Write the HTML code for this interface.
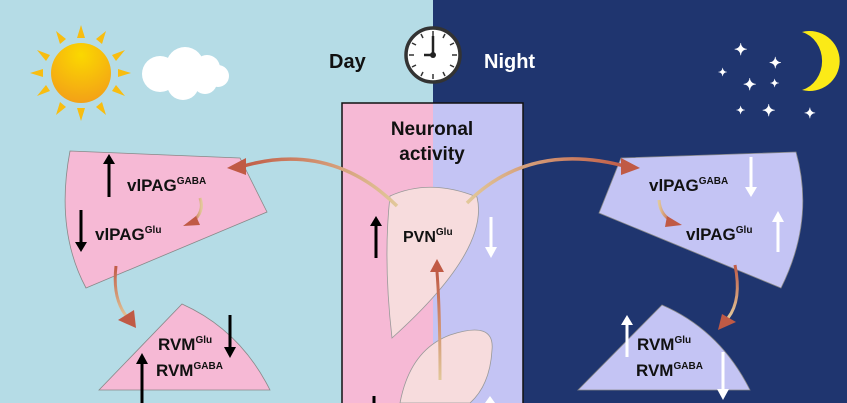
<!DOCTYPE html>
<html><head><meta charset="utf-8"><style>
html,body{margin:0;padding:0;width:847px;height:403px;overflow:hidden}
text{font-family:"Liberation Sans",Arial,sans-serif;font-weight:bold}
</style></head><body>
<svg width="847" height="403" viewBox="0 0 847 403" xmlns="http://www.w3.org/2000/svg">
<defs>
<linearGradient id="gl" x1="1" y1="0" x2="0" y2="0"><stop offset="0" stop-color="#e2c89a"/><stop offset="1" stop-color="#c05a45"/></linearGradient>
<linearGradient id="gr" x1="0" y1="0" x2="1" y2="0"><stop offset="0" stop-color="#e2c89a"/><stop offset="1" stop-color="#c05a45"/></linearGradient>
<linearGradient id="gv" x1="0" y1="1" x2="0" y2="0"><stop offset="0" stop-color="#e2c89a"/><stop offset="1" stop-color="#c05a45"/></linearGradient>
<radialGradient id="sun" cx="0.5" cy="0.2" r="0.9"><stop offset="0" stop-color="#fbd800"/><stop offset="1" stop-color="#f29a1a"/></radialGradient>
</defs>
<rect x="0" y="0" width="433" height="403" fill="#b5dce6"/>
<rect x="433" y="0" width="414" height="403" fill="#1f356f"/>
<!-- center box -->
<rect x="342" y="103" width="91" height="310" fill="#f6b9d5"/>
<rect x="433" y="103" width="90" height="310" fill="#c4c4f4"/>
<rect x="342" y="103" width="181" height="310" fill="none" stroke="#111" stroke-width="1.5"/>
<text x="432" y="135" font-size="19" text-anchor="middle" fill="#111">Neuronal</text>
<text x="432" y="160" font-size="19" text-anchor="middle" fill="#111">activity</text>
<!-- day/night -->
<text x="329" y="68" font-size="20" fill="#111">Day</text>
<text x="484" y="68" font-size="20" fill="#fff">Night</text>
<circle cx="433" cy="55" r="27" fill="#fff" stroke="#333" stroke-width="3.5"/>
<g stroke="#333" stroke-width="1.5">
<line x1="433" y1="31" x2="433" y2="36"/><line x1="433" y1="74" x2="433" y2="79"/>
<line x1="409" y1="55" x2="414" y2="55"/><line x1="452" y1="55" x2="457" y2="55"/>
<line x1="445" y1="34" x2="443" y2="38"/><line x1="421" y1="34" x2="423" y2="38"/>
<line x1="445" y1="76" x2="443" y2="72"/><line x1="421" y1="76" x2="423" y2="72"/>
<line x1="454" y1="43" x2="450" y2="45"/><line x1="412" y1="43" x2="416" y2="45"/>
<line x1="454" y1="67" x2="450" y2="65"/><line x1="412" y1="67" x2="416" y2="65"/>
</g>
<line x1="433" y1="55" x2="433" y2="36" stroke="#222" stroke-width="2.5"/>
<line x1="433" y1="55" x2="424" y2="55" stroke="#222" stroke-width="2.5"/>
<circle cx="433" cy="55" r="3" fill="#222"/>
<!-- sun -->
<g fill="#f8bd10">
<polygon points="81,25 77,38 85,38"/><polygon points="81,121 77,108 85,108"/>
<polygon points="30,73 43,69 43,77"/><polygon points="131,73 118,69 118,77"/>
<polygon points="56,31 60,44 66,39"/><polygon points="106,31 102,44 96,39"/>
<polygon points="56,115 60,102 66,107"/><polygon points="106,115 102,102 96,107"/>
<polygon points="37,50 50,55 46,61"/><polygon points="125,50 112,55 116,61"/>
<polygon points="37,96 50,91 46,85"/><polygon points="125,96 112,91 116,85"/>
</g>
<circle cx="81" cy="73" r="30" fill="url(#sun)"/>
<!-- cloud -->
<g fill="#fff">
<circle cx="160" cy="74" r="18"/><circle cx="185" cy="66" r="19"/><circle cx="207" cy="68" r="13"/>
<circle cx="218" cy="76" r="11"/><circle cx="183" cy="84" r="16"/><circle cx="205" cy="82" r="12"/>
</g>
<!-- stars -->
<g fill="#fff" font-size="14" font-family="DejaVu Sans">
<text x="734" y="55" font-size="16">✦</text><text x="769" y="68" font-size="15">✦</text>
<text x="718" y="76" font-size="11">✦</text><text x="743" y="90" font-size="16">✦</text>
<text x="770" y="87" font-size="11">✦</text><text x="736" y="114" font-size="11">✦</text>
<text x="762" y="116" font-size="16">✦</text><text x="804" y="118" font-size="14">✦</text>
</g>
<path d="M802,32 A30,30 0 1 1 802,90 A27,30 0 0 0 802,32 Z" fill="#fbea17"/>
<!-- left vlPAG -->
<path d="M70,151 L240,158 L267,212 L86,288 Q55,230 70,151 Z" fill="#f6b9d5" stroke="#888" stroke-width="0.8"/>
<text x="127" y="191" font-size="17" fill="#111">vlPAG<tspan font-size="10" dy="-7">GABA</tspan></text>
<text x="95" y="240" font-size="17" fill="#111">vlPAG<tspan font-size="10" dy="-7">Glu</tspan></text>
<path d="M109,197 V162" stroke="#000" stroke-width="3"/><polygon points="103,164 115,164 109,154" fill="#000"/>
<path d="M81,210 V245" stroke="#000" stroke-width="3"/><polygon points="75,242 87,242 81,252" fill="#000"/>
<path d="M200,198 Q205,212 192,222" stroke="url(#gl)" stroke-width="3" fill="none"/><polygon points="183,226 196,216 200,225" fill="#c05a45"/>
<!-- left RVM -->
<path d="M99,390 L182,304 Q240,330 270,390 Z" fill="#f6b9d5" stroke="#888" stroke-width="0.8"/>
<text x="158" y="350" font-size="17" fill="#111">RVM<tspan font-size="10" dy="-7">Glu</tspan></text>
<text x="156" y="376" font-size="17" fill="#111">RVM<tspan font-size="10" dy="-7">GABA</tspan></text>
<path d="M230,315 V350" stroke="#000" stroke-width="3"/><polygon points="224,347 236,347 230,358" fill="#000"/>
<path d="M142,403 V362" stroke="#000" stroke-width="3"/><polygon points="136,364 148,364 142,353" fill="#000"/>
<path d="M116,266 Q112,300 128,318" stroke="url(#gv)" stroke-width="3" fill="none"/><polygon points="118,320 134,310 136,328" fill="#c05a45"/>
<!-- right vlPAG -->
<path d="M621,158 L796,152 Q815,220 781,288 L599,213 Z" fill="#c4c4f4" stroke="#888" stroke-width="0.8"/>
<text x="649" y="191" font-size="17" fill="#111">vlPAG<tspan font-size="10" dy="-7">GABA</tspan></text>
<text x="686" y="240" font-size="17" fill="#111">vlPAG<tspan font-size="10" dy="-7">Glu</tspan></text>
<path d="M751,157 V190" stroke="#fff" stroke-width="3"/><polygon points="745,187 757,187 751,197" fill="#fff"/>
<path d="M778,252 V220" stroke="#fff" stroke-width="3"/><polygon points="772,222 784,222 778,211" fill="#fff"/>
<path d="M659,200 Q660,215 672,221" stroke="url(#gr)" stroke-width="3" fill="none"/><polygon points="682,225 667,216 665,227" fill="#c05a45"/>
<!-- right RVM -->
<path d="M578,390 L662,305 Q720,330 750,390 Z" fill="#c4c4f4" stroke="#888" stroke-width="0.8"/>
<text x="637" y="350" font-size="17" fill="#111">RVM<tspan font-size="10" dy="-7">Glu</tspan></text>
<text x="636" y="376" font-size="17" fill="#111">RVM<tspan font-size="10" dy="-7">GABA</tspan></text>
<path d="M627,357 V323" stroke="#fff" stroke-width="3"/><polygon points="621,325 633,325 627,315" fill="#fff"/>
<path d="M723,352 V392" stroke="#fff" stroke-width="3"/><polygon points="717,389 729,389 723,400" fill="#fff"/>
<path d="M735,265 Q742,300 728,318" stroke="url(#gv)" stroke-width="3" fill="none"/><polygon points="718,330 722,314 736,322" fill="#c05a45"/>
<!-- lower hypothalamic shape -->
<path d="M400,403 Q410,350 450,335 Q495,320 492,350 Q490,385 470,403 Z" fill="#f7dcdd" stroke="#999" stroke-width="0.8"/>
<!-- PVN -->
<path d="M390,196 Q430,178 477,197 Q490,250 392,338 Q383,260 390,196 Z" fill="#f7dcdd" stroke="#999" stroke-width="0.8"/>
<text x="403" y="242" font-size="16" fill="#111">PVN<tspan font-size="10" dy="-7">Glu</tspan></text>
<path d="M376,258 V224" stroke="#000" stroke-width="3"/><polygon points="370,226 382,226 376,216" fill="#000"/>
<path d="M491,217 V250" stroke="#fff" stroke-width="3"/><polygon points="485,247 497,247 491,258" fill="#fff"/>
<path d="M374,396 V403" stroke="#000" stroke-width="3"/>
<path d="M490,396 L485,403 H495 Z" fill="#fff"/>
<!-- curved arrows -->
<path d="M440,380 Q440,310 437,272" stroke="url(#gv)" stroke-width="3" fill="none"/><polygon points="430,272 444,272 437,259" fill="#c05a45"/>
<path d="M397,206 Q330,140 240,167" stroke="url(#gl)" stroke-width="3.5" fill="none"/><polygon points="227,168 246,158 246,175" fill="#c05a45"/>
<path d="M467,203 Q530,140 628,167" stroke="url(#gr)" stroke-width="3.5" fill="none"/><polygon points="640,168 621,158 621,175" fill="#c05a45"/>
</svg>
</body></html>
